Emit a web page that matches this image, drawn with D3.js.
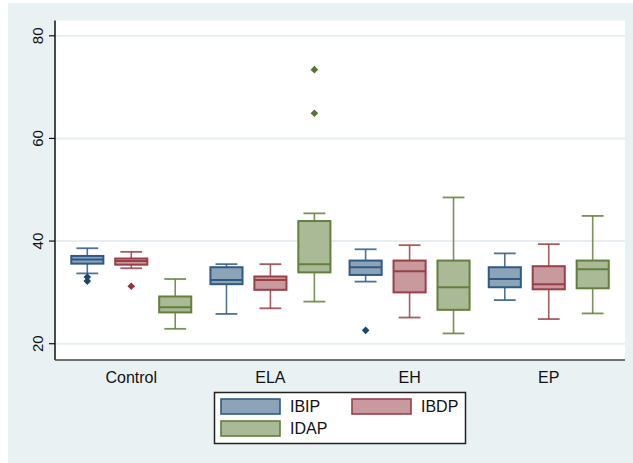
<!DOCTYPE html>
<html>
<head>
<meta charset="utf-8">
<script src="https://cdn.jsdelivr.net/npm/d3@7"></script>
<style>
  html, body { margin: 0; padding: 0; background: #ffffff; }
  svg { display: block; font-family: "Liberation Sans", Arial, sans-serif; }
</style>
</head>
<body>
<svg id="chart" width="633" height="463"></svg>
<script>
// Groups along the x axis and the three measures drawn in each group
const categories = ["Control", "ELA", "EH", "EP"];
const seriesNames = ["IBIP", "IBDP", "IDAP"];
const yTicks = [20, 40, 60, 80];

// Box summaries per group: [lower whisker, Q1, median, Q3, upper whisker]
const ibipStats = [
  [33.7, 35.6, 36.4, 37.1, 38.6],
  [25.8, 31.6, 32.4, 34.9, 35.5],
  [32.1, 33.4, 34.9, 36.2, 38.4],
  [28.5, 31.0, 32.6, 34.9, 37.6]
];
const ibdpStats = [
  [34.7, 35.4, 36.1, 36.6, 37.9],
  [26.9, 30.5, 32.4, 33.1, 35.5],
  [25.1, 30.0, 34.1, 36.2, 39.2],
  [24.8, 30.6, 31.6, 35.1, 39.4]
];
const idapStats = [
  [22.9, 26.1, 27.1, 29.2, 32.6],
  [28.2, 33.9, 35.5, 43.9, 45.4],
  [22.0, 26.6, 31.0, 36.2, 48.5],
  [25.9, 30.8, 34.5, 36.2, 44.9]
];

// Outlying observations per group
const ibipOutliers = [[33.0, 32.2], [], [22.6], []];
const ibdpOutliers = [[31.2], [], [], []];
const idapOutliers = [[], [73.4, 64.9], [], []];

const seriesFill = ["#8da3b7", "#c89a9d", "#aaba97"];
const seriesStroke = ["#2f5a85", "#9a3f47", "#627f3c"];
const outlierColor = ["#1a476f", "#90353b", "#55752f"];

const statsBySeries = [ibipStats, ibdpStats, idapStats];
const outliersBySeries = [ibipOutliers, ibdpOutliers, idapOutliers];

const svg = d3.select("#chart");

// Graph region and plot region
svg.append("rect").attr("x", 8).attr("y", 3).attr("width", 625).attr("height", 460)
  .attr("fill", "#e9f1f3");
const plot = { left: 55, right: 625, top: 20.5, bottom: 360 };
svg.append("rect").attr("x", plot.left).attr("y", plot.top)
  .attr("width", plot.right - plot.left).attr("height", plot.bottom - plot.top)
  .attr("fill", "#ffffff");

const y = d3.scaleLinear().domain([20, 80]).range([343.7, 35.8]);
const x = d3.scalePoint().domain(categories).range([plot.left, plot.right]).padding(0.548);
const xs = d3.scaleBand().domain(seriesNames).range([-60, 60]).paddingInner(0.27).paddingOuter(0);
const boxW = xs.bandwidth();
const capW = boxW * 0.68;

// Horizontal grid lines
svg.append("g").selectAll("line").data(yTicks).join("line")
  .attr("x1", plot.left).attr("x2", plot.right)
  .attr("y1", d => y(d)).attr("y2", d => y(d))
  .attr("stroke", "#e6eef1").attr("stroke-width", 2);

// Boxes
const rows = [];
seriesNames.forEach((s, si) => {
  categories.forEach((c, ci) => {
    rows.push({ s, si, c, st: statsBySeries[si][ci], out: outliersBySeries[si][ci] });
  });
});

const g = svg.append("g");
const box = g.selectAll("g.box").data(rows).join("g").attr("class", "box")
  .attr("transform", d => `translate(${x(d.c) + xs(d.s) + boxW / 2},0)`);

// whiskers
box.append("line").attr("x1", 0).attr("x2", 0)
  .attr("y1", d => y(d.st[4])).attr("y2", d => y(d.st[3]))
  .attr("stroke", d => seriesStroke[d.si]).attr("stroke-width", 1.6).attr("stroke-opacity", 0.85);
box.append("line").attr("x1", 0).attr("x2", 0)
  .attr("y1", d => y(d.st[1])).attr("y2", d => y(d.st[0]))
  .attr("stroke", d => seriesStroke[d.si]).attr("stroke-width", 1.6).attr("stroke-opacity", 0.85);
// caps
box.append("line").attr("x1", -capW / 2).attr("x2", capW / 2)
  .attr("y1", d => y(d.st[4])).attr("y2", d => y(d.st[4]))
  .attr("stroke", d => seriesStroke[d.si]).attr("stroke-width", 1.8).attr("stroke-opacity", 0.85);
box.append("line").attr("x1", -capW / 2).attr("x2", capW / 2)
  .attr("y1", d => y(d.st[0])).attr("y2", d => y(d.st[0]))
  .attr("stroke", d => seriesStroke[d.si]).attr("stroke-width", 1.8).attr("stroke-opacity", 0.85);
// box body
box.append("rect").attr("x", -boxW / 2).attr("width", boxW)
  .attr("y", d => y(d.st[3])).attr("height", d => y(d.st[1]) - y(d.st[3]))
  .attr("fill", d => seriesFill[d.si])
  .attr("stroke", d => seriesStroke[d.si]).attr("stroke-width", 2);
// median
box.append("line").attr("x1", -boxW / 2).attr("x2", boxW / 2)
  .attr("y1", d => y(d.st[2])).attr("y2", d => y(d.st[2]))
  .attr("stroke", d => seriesStroke[d.si]).attr("stroke-width", 2);
// outliers
const diamond = "M0,-3.8L3.8,0L0,3.8L-3.8,0Z";
box.selectAll("path.out").data(d => d.out.map(v => ({ v, si: d.si }))).join("path")
  .attr("class", "out")
  .attr("d", diamond)
  .attr("transform", d => `translate(0,${y(d.v)})`)
  .attr("fill", d => outlierColor[d.si]);

// Y axis
svg.append("line").attr("x1", plot.left).attr("x2", plot.left)
  .attr("y1", plot.top).attr("y2", plot.bottom)
  .attr("stroke", "#111").attr("stroke-width", 1.5);
const yt = svg.append("g").selectAll("g").data(yTicks).join("g")
  .attr("transform", d => `translate(0,${y(d)})`);
yt.append("line").attr("x1", 49).attr("x2", plot.left).attr("stroke", "#111").attr("stroke-width", 1.2);
yt.append("text").attr("transform", "translate(42.5,0) rotate(-90)")
  .attr("text-anchor", "middle").attr("font-size", 15).attr("fill", "#111")
  .text(d => d);

// X axis
svg.append("line").attr("x1", plot.left).attr("x2", plot.right)
  .attr("y1", plot.bottom).attr("y2", plot.bottom)
  .attr("stroke", "#444").attr("stroke-width", 1.6);
svg.append("g").selectAll("text").data(categories).join("text")
  .attr("x", d => x(d)).attr("y", 383)
  .attr("text-anchor", "middle").attr("font-size", 16).attr("fill", "#111")
  .text(d => d);

// Legend
const lg = svg.append("g");
lg.append("rect").attr("x", 214.5).attr("y", 392.5).attr("width", 251).attr("height", 51)
  .attr("fill", "#ffffff").attr("stroke", "#222").attr("stroke-width", 1.5);
const legendPos = [[221, 399, 290], [352, 399, 421], [221, 421, 290]];
seriesNames.forEach((s, i) => {
  const [sx, sy, tx] = legendPos[i];
  lg.append("rect").attr("x", sx).attr("y", sy).attr("width", 59).attr("height", 15)
    .attr("fill", seriesFill[i]).attr("stroke", seriesStroke[i]).attr("stroke-width", 1.6);
  lg.append("text").attr("x", tx).attr("y", sy + 13)
    .attr("font-size", 16).attr("fill", "#111").text(s);
});
</script>
</body>
</html>
